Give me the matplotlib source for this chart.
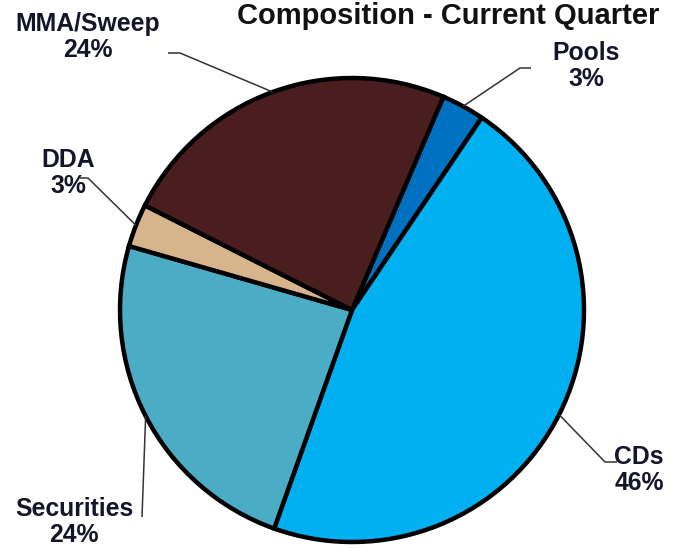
import numpy as np
import matplotlib
matplotlib.use("Agg")
import matplotlib.pyplot as plt

plt.rcParams['font.family'] = ['Liberation Sans', 'DejaVu Sans']

# slice data, clockwise from the top
categories = ["Pools", "CDs", "Securities", "DDA", "MMA/Sweep"]
shares = [3, 46, 24, 3, 24]
pct_labels = ["3%", "46%", "24%", "3%", "24%"]
colors = ["#0070c0", "#00b0f0", "#4bacc6", "#d6b48c", "#4a1e1e"]

W, H = 683, 548

def py(y):
    # image rows -> data y (axes run bottom-up)
    return H - y

# label text centre, leader elbow and leader end (pixel coords)
label_pos = [(586, 66), (639, 470), (74, 522), (68, 173), (88, 37)]
elbows = [(520, 68), (605, 462), (142, 517), (88, 178), (180, 53)]
ends = [(531, 68), (617, 462), (142, 517), (80, 178), (168, 53)]

fig = plt.figure(figsize=(W / 100, H / 100), dpi=100)
ax = fig.add_axes([0, 0, 1, 1])

cx, cy, r = 352, py(310), 232
wedges, _ = ax.pie(shares, colors=colors, startangle=66.8, counterclock=False,
                   center=(cx, cy), radius=r,
                   wedgeprops=dict(edgecolor="black", linewidth=3.2))

ax.set_xlim(0, W)
ax.set_ylim(0, H)
ax.set_aspect("equal")
ax.axis("off")

for w, name, pct, (lx, ly), (ex, ey), (tx, ty) in zip(
        wedges, categories, pct_labels, label_pos, elbows, ends):
    mid = np.deg2rad((w.theta1 + w.theta2) / 2)
    sx, sy = cx + r * np.cos(mid), cy + r * np.sin(mid)
    ax.plot([sx, ex, tx], [sy, py(ey), py(ty)], color="#333333", lw=1.1,
            solid_capstyle="butt")
    ax.text(lx, py(ly), name + "\n" + pct, ha="center", va="center",
            multialignment="center", fontsize=17.8, fontweight="bold",
            color="#15152a", linespacing=1.1)

ax.text(448, py(24), "Composition - Current Quarter", ha="center", va="baseline",
        fontsize=21, fontweight="bold", color="#111111")

fig.savefig("out.png", dpi=100)
